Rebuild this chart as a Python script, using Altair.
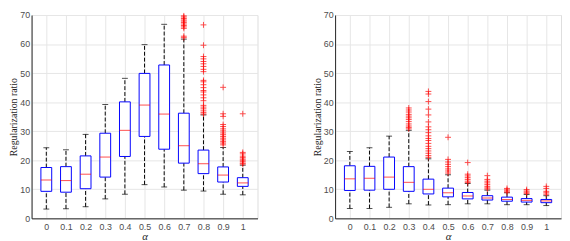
import altair as alt
import pandas as pd

alphas = [0, 0.1, 0.2, 0.3, 0.4, 0.5, 0.6, 0.7, 0.8, 0.9, 1.0]

# Left panel box statistics
left_low = [3.2, 3.3, 4.0, 6.7, 8.3, 11.6, 10.8, 9.7, 9.4, 8.3, 8.1]
left_q1 = [9.3, 9.0, 10.2, 14.2, 21.3, 28.2, 23.8, 19.0, 15.4, 12.5, 11.0]
left_med = [13.2, 13.0, 15.2, 21.1, 30.3, 39.0, 35.9, 25.0, 18.8, 14.9, 12.2]
left_q3 = [17.5, 17.8, 21.5, 29.3, 40.1, 49.9, 52.8, 36.2, 23.5, 17.7, 14.0]
left_high = [24.3, 23.6, 28.9, 39.2, 48.2, 59.8, 66.8, 61.7, 35.6, 24.4, 18.3]
left_outliers = [
    [], [], [], [], [], [], [],
    [62.2, 62.7, 65.4, 65.9, 66.4, 66.9, 67.4, 67.9, 68.3, 68.8, 69.3, 69.7],
    [35.9, 36.4, 37.0, 37.7, 38.3, 38.9, 40.5, 41.5, 42.5, 43.5, 44.0, 45.0, 46.0,
     47.0, 47.5, 50.5, 51.3, 52.3, 53.2, 54.0, 54.9, 55.7, 59.6, 66.6],
    [25.3, 25.9, 26.4, 27.0, 27.6, 28.2, 28.8, 29.4, 30.1, 30.8, 31.6, 32.3, 35.1, 36.0, 45.1],
    [18.7, 19.0, 19.5, 20.0, 20.4, 20.9, 21.4, 22.2, 22.7, 36.0],
]

# Right panel box statistics
right_low = [3.4, 3.4, 3.8, 5.0, 4.6, 4.7, 5.0, 5.0, 4.7, 4.7, 4.4]
right_q1 = [9.6, 9.7, 10.0, 9.3, 8.4, 7.4, 6.7, 6.3, 5.9, 5.6, 5.4]
right_med = [13.6, 13.8, 14.2, 12.4, 10.0, 8.8, 7.7, 7.0, 6.5, 6.2, 6.0]
right_q3 = [18.1, 17.9, 21.1, 17.8, 13.5, 10.4, 8.9, 7.8, 7.3, 6.8, 6.5]
right_high = [23.0, 24.3, 28.3, 30.3, 20.5, 15.0, 12.0, 9.7, 8.8, 8.2, 7.8]
right_outliers = [
    [], [], [],
    [30.8, 31.3, 31.8, 32.5, 33.3, 34.0, 34.6, 35.2, 35.8, 36.6, 37.3, 38.0],
    [21.0, 21.6, 22.4, 23.2, 24.0, 24.8, 25.8, 26.8, 27.5, 28.4, 29.5, 30.5, 31.5,
     33.2, 35.6, 37.6, 40.2, 42.8, 43.7],
    [15.6, 16.3, 17.0, 17.8, 18.6, 19.4, 20.3, 27.9],
    [12.3, 12.8, 13.4, 14.0, 14.6, 15.2, 19.2],
    [10.1, 10.5, 11.0, 11.6, 12.2, 12.8, 13.4, 14.7],
    [9.0, 9.4, 9.8, 10.3],
    [8.6, 9.0, 9.4, 9.9],
    [8.3, 8.8, 9.3, 10.3, 11.0],
]

x_ticks = alphas
y_ticks = [0, 10, 20, 30, 40, 50, 60, 70]

BLUE = "#0000ff"
RED = "#ff0000"
AXIS = "#262626"
PW, PH = 230, 207
BOXW = 11
PLUS = "M-1,0L1,0M0,-1L0,1"


def panel(low, q1, med, q3, high, outs):
    stats = pd.DataFrame({"alpha": alphas, "low": low, "q1": q1, "med": med,
                          "q3": q3, "high": high})
    rows = [(a, v) for a, vs in zip(alphas, outs) for v in vs]
    outl = pd.DataFrame(rows, columns=["alpha", "value"])

    xs = alt.X("alpha:Q", scale=alt.Scale(domain=[-0.05, 1.05], nice=False, zero=False),
               axis=alt.Axis(values=x_ticks, labelExpr="format(datum.value, '~g')",
                             title="α", titleFont="Liberation Serif", titleFontStyle="italic",
                             titleFontWeight="normal", titleFontSize=11, titlePadding=0,
                             labelFontSize=9, labelColor="#4d4d4d", labelPadding=4,
                             labelFont="Liberation Sans",
                             grid=True, gridColor="#e6e6e6", ticks=False,
                             domainColor=AXIS, titleColor=AXIS))
    ys = alt.Scale(domain=[0, 70], nice=False)
    yaxis = alt.Axis(values=y_ticks, title="Regularization ratio",
                     titleFont="Liberation Serif", titleFontWeight="normal", titleFontSize=10,
                     titlePadding=1, labelFontSize=9, labelColor="#4d4d4d", labelPadding=2,
                     labelFont="Liberation Sans",
                     grid=True, gridColor="#e6e6e6", ticks=False, domainColor=AXIS,
                     titleColor=AXIS)

    base = alt.Chart(stats)
    whisk_lo = base.mark_rule(color="black", strokeDash=[4, 2], strokeWidth=1).encode(
        x=xs, y=alt.Y("low:Q", scale=ys, axis=yaxis), y2="q1:Q")
    whisk_hi = base.mark_rule(color="black", strokeDash=[4, 2], strokeWidth=1).encode(
        x=xs, y=alt.Y("q3:Q", scale=ys, axis=yaxis), y2="high:Q")
    cap_lo = base.mark_tick(color="black", orient="horizontal", size=6, thickness=1).encode(
        x=xs, y=alt.Y("low:Q", scale=ys, axis=yaxis))
    cap_hi = base.mark_tick(color="black", orient="horizontal", size=6, thickness=1).encode(
        x=xs, y=alt.Y("high:Q", scale=ys, axis=yaxis))
    box = base.mark_bar(size=BOXW, fill="white", stroke=BLUE, strokeWidth=1).encode(
        x=xs, y=alt.Y("q1:Q", scale=ys, axis=yaxis), y2="q3:Q")
    median = base.mark_tick(color=RED, orient="horizontal", size=BOXW, thickness=1).encode(
        x=xs, y=alt.Y("med:Q", scale=ys, axis=yaxis))
    pts = alt.Chart(outl).mark_point(shape=PLUS, size=36, color=RED, strokeWidth=1,
                                     filled=False).encode(
        x=xs, y=alt.Y("value:Q", scale=ys, axis=yaxis))
    return alt.layer(whisk_lo, whisk_hi, cap_lo, cap_hi, box, median, pts).properties(
        width=PW, height=PH)


left = panel(left_low, left_q1, left_med, left_q3, left_high, left_outliers)
right = panel(right_low, right_q1, right_med, right_q3, right_high, right_outliers)

chart = alt.hconcat(left, right, spacing=54).properties(
    padding={"left": 0, "top": 0, "right": 0, "bottom": 0}
).configure_view(stroke=AXIS, strokeWidth=1).configure(background="white")

chart.save("out.html", embed_options={"renderer": "svg", "actions": False})
